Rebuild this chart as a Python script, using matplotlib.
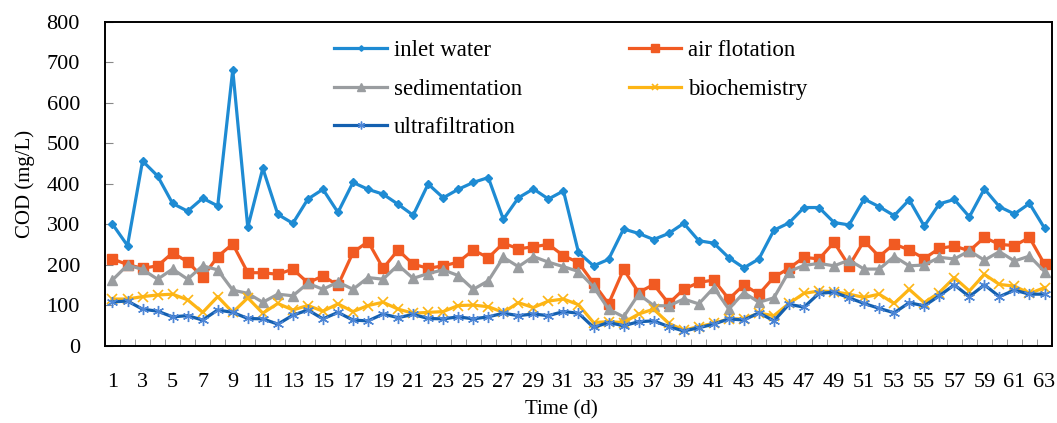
#COD of each treatment step over 63 days
import matplotlib.pyplot as plt
import numpy as np

plt.rcParams['font.family'] = ['Liberation Serif', 'DejaVu Serif']

days = list(range(1, 64))
inlet_water = [300,247,456,419,351,332,364,345,681,292,
               438,324,302,362,386,329,403,386,374,349,
               322,399,365,386,403,415,312,365,387,362,
               382,230,197,213,288,277,262,277,302,259,
               253,217,192,214,285,303,341,341,304,298,
               362,343,321,360,295,350,361,318,387,343,
               325,351,290]
air_flotation = [214,200,191,197,229,207,169,220,251,180,
                 180,176,189,155,172,149,230,257,191,236,
                 201,191,197,206,236,217,253,239,244,250,
                 222,205,154,103,188,131,151,104,139,156,
                 162,115,150,127,169,191,218,214,255,197,
                 259,220,251,236,215,240,246,234,267,250,
                 247,267,201]
sedimentation = [162,199,188,164,189,164,197,187,137,129,
                 107,127,123,154,139,157,139,168,164,199,
                 166,178,187,173,139,160,218,195,220,206,
                 195,183,145,90,71,127,99,98,115,103,
                 143,90,131,107,118,183,198,203,197,211,
                 189,189,220,197,199,218,214,234,211,232,
                 209,221,183]
biochemistry = [115,115,121,125,127,113,82,121,82,118,
                80,104,88,99,85,103,84,99,107,90,
                80,82,84,99,100,96,82,106,94,110,
                115,101,57,59,57,78,90,55,38,47,
                55,66,66,80,74,104,129,135,133,127,
                119,127,104,139,106,131,168,135,176,151,
                147,129,143]
ultrafiltration = [108,110,90,85,71,74,63,88,82,67,
                   66,53,75,88,66,82,63,61,78,69,
                   77,67,66,71,66,71,80,74,78,74,
                   84,80,45,57,49,59,61,47,36,44,
                   53,66,63,81,61,102,95,129,132,118,
                   104,92,81,106,98,123,150,121,150,121,
                   137,127,127]

fig = plt.figure(figsize=(10.57, 4.23), dpi=100)
ax = fig.add_axes([0.0993, 0.183, 0.896, 0.7657])

x = np.arange(len(days))
lw = 2.3
l1, = ax.plot(x, inlet_water, color='#1e8bd3', lw=lw, marker='D', ms=4, label='inlet water')
l2, = ax.plot(x, air_flotation, color='#f15a22', lw=lw, marker='s', ms=7.5, label='air flotation')
l3, = ax.plot(x, sedimentation, color='#9a9da0', lw=lw, marker='^', ms=7.5, label='sedimentation')
l4, = ax.plot(x, biochemistry, color='#fdb515', lw=lw, marker='x', ms=7, mew=1.2, label='biochemistry')
l5, = ax.plot(x, ultrafiltration, color='#1460b0', lw=lw, marker=(6, 2, 0), ms=8, mew=1.0,
              mec='#4d86d6', label='ultrafiltration')

ax.set_xlim(-0.5, len(days) - 0.5)
ax.set_ylim(0, 800)
ax.set_yticks(range(0, 801, 100))
ax.set_xticks(x[::2])
ax.set_xticklabels([str(d) for d in days[::2]])
ax.set_xticks(np.arange(0.5, len(days) - 1, 1), minor=True)
ax.tick_params(axis='x', which='major', length=0, pad=20, labelsize=16)
ax.tick_params(axis='x', which='minor', direction='in', length=5, color='#888888')
ax.tick_params(axis='y', direction='in', length=6, color='#888888', pad=18, labelsize=16)
for s in ax.spines.values():
    s.set_linewidth(1.4)
    s.set_color('black')

ax.set_xlabel('Time (d)', fontsize=15)
ax.xaxis.set_label_coords(0.482, -0.168)
ax.set_ylabel('COD (mg/L)', fontsize=15, labelpad=8)

ax.legend(handles=[l1, l3, l5, l2, l4], ncol=2, frameon=False, fontsize=16.5,
          loc='upper left', bbox_to_anchor=(0.230, 0.978), borderpad=0,
          handlelength=2.3, handletextpad=0.3, labelspacing=0.75,
          columnspacing=4.65, markerscale=0.7)

plt.savefig('out.png', dpi=100)
